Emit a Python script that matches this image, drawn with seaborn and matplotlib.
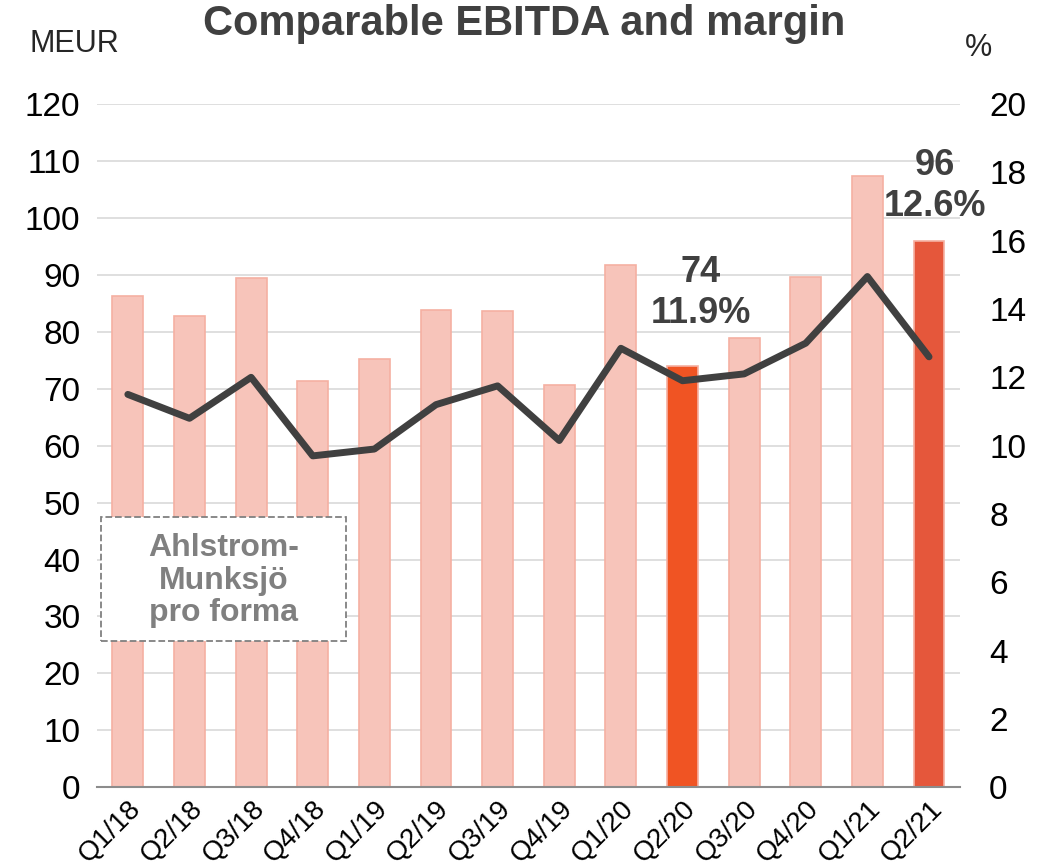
import numpy as np
import pandas as pd
import matplotlib
matplotlib.use('Agg')
import matplotlib.pyplot as plt
from matplotlib.patches import Rectangle
import seaborn as sns

# Dati
quarters = ['Q1/18', 'Q2/18', 'Q3/18', 'Q4/18', 'Q1/19', 'Q2/19', 'Q3/19',
            'Q4/19', 'Q1/20', 'Q2/20', 'Q3/20', 'Q4/20', 'Q1/21', 'Q2/21']
ebitda = [86.3, 82.8, 89.5, 71.4, 75.3, 83.9, 83.7, 70.7, 91.8, 74, 78.9, 89.6, 107.4, 96]
margin = [11.5, 10.8, 12.0, 9.7, 9.9, 11.2, 11.75, 10.15, 12.85, 11.9, 12.1, 13.0, 14.95, 12.6]
highlight = ['base'] * 9 + ['q220'] + ['base'] * 3 + ['q221']

df = pd.DataFrame({'quarter': quarters, 'ebitda': ebitda, 'margin': margin, 'kind': highlight})

sns.set_style('white')
plt.rcParams['font.family'] = ['Liberation Sans', 'DejaVu Sans']

fig, ax = plt.subplots(figsize=(10.49, 8.67), dpi=100)
fig.subplots_adjust(left=0.0925, right=0.915, top=0.88, bottom=0.092)

palette = {'base': '#F7C4BA', 'q220': '#F05423', 'q221': '#E5573B'}
sns.barplot(data=df, x='quarter', y='ebitda', hue='kind', palette=palette,
            saturation=1, dodge=False, width=0.5, legend=False, ax=ax, zorder=2)
for p in ax.patches:
    p.set_edgecolor('#F5B0A2')
    p.set_linewidth(1.2)

ax.set_xlim(-0.5, len(quarters) - 0.5)
ax.set_ylim(0, 120)
ax.set_yticks(np.arange(0, 121, 10))
ax.yaxis.grid(True, color='#D9D9D9', linewidth=1.2, zorder=0)
ax.set_axisbelow(True)
for s in ['top', 'right', 'left']:
    ax.spines[s].set_visible(False)
ax.spines['bottom'].set_color('#8C8C8C')
ax.spines['bottom'].set_linewidth(1.5)
ax.set_xlabel('')
ax.set_ylabel('')
ax.tick_params(axis='y', labelsize=24, length=0, pad=12, labelcolor='black')
ax.tick_params(axis='x', which='major', length=0, labelsize=20, pad=6, labelcolor='black')
ax.set_xticks(range(len(quarters)))
ax.set_xticklabels(quarters, rotation=45, ha='right', rotation_mode='anchor')
ax.set_xticks([-0.5, 3.5, 7.5, 11.5], minor=True)
ax.tick_params(axis='x', which='minor', length=9, width=1.5, color='#8C8C8C')

# Asse destro per il margine
ax2 = ax.twinx()
sns.lineplot(x=np.arange(len(quarters)), y=df['margin'], color='#404040',
             linewidth=5, ax=ax2, zorder=3)
ax2.set_ylim(0, 20)
ax2.set_yticks(np.arange(0, 21, 2))
ax2.set_ylabel('')
for s in ax2.spines.values():
    s.set_visible(False)
ax2.tick_params(axis='y', labelsize=24, length=0, pad=21, labelcolor='black')

fig.suptitle('Comparable EBITDA and margin', fontsize=30, fontweight='bold',
             color='#404040', y=0.995)
fig.text(0.028, 0.94, 'MEUR', fontsize=22)
fig.text(0.92, 0.935, '%', fontsize=22)

ax.text(9.3, 86.8, '74\n11.9%', ha='center', va='center', fontsize=26,
        fontweight='bold', color='#404040', linespacing=1.2)
ax.text(13.1, 105.6, '96\n12.6%', ha='center', va='center', fontsize=26,
        fontweight='bold', color='#404040', linespacing=1.2)

# Riquadro pro forma
ax.add_patch(Rectangle((-0.435, 25.6), 3.975, 21.9, facecolor='white',
                       edgecolor='#808080', linestyle='--', linewidth=1.3,
                       zorder=4, clip_on=False))
ax.text(1.56, 36.3, 'Ahlstrom-\nMunksjö\npro forma', ha='center', va='center',
        fontsize=23, fontweight='bold', color='#808080', linespacing=1.12,
        zorder=5)

plt.savefig('out.png', dpi=100)
